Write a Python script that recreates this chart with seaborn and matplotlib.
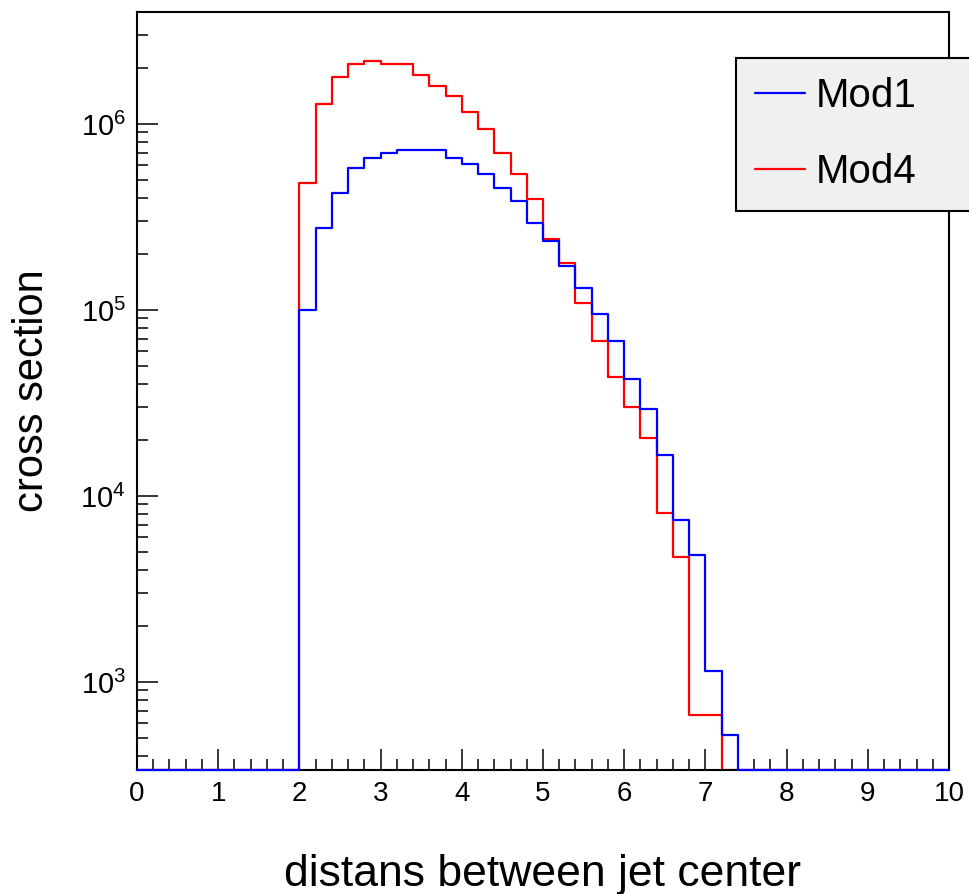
import numpy as np
import pandas as pd
import matplotlib
matplotlib.use("Agg")
import matplotlib.pyplot as plt
import seaborn as sns
from matplotlib.ticker import LogLocator, MultipleLocator, NullFormatter, LogFormatterSciNotation

# ---------------- data ----------------
x_min, x_max, bin_width = 0.0, 10.0, 0.2
series_names = ["Mod1", "Mod4"]
mod1 = [0, 0, 0, 0, 0, 0, 0, 0, 0, 0,
        1.0e5, 2.75e5, 4.24e5, 5.78e5, 6.55e5, 6.96e5, 7.24e5, 7.24e5, 7.24e5, 6.55e5,
        6.1e5, 5.37e5, 4.55e5, 3.84e5, 2.95e5, 2.35e5, 1.73e5, 1.32e5, 9.5e4, 6.8e4,
        4.24e4, 2.92e4, 1.66e4, 7.4e3, 4.8e3, 1.15e3, 5.2e2,
        0, 0, 0, 0, 0, 0, 0, 0, 0, 0, 0, 0, 0]
mod4 = [0, 0, 0, 0, 0, 0, 0, 0, 0, 0,
        4.8e5, 1.28e6, 1.79e6, 2.11e6, 2.18e6, 2.11e6, 2.11e6, 1.84e6, 1.61e6, 1.41e6,
        1.16e6, 9.4e5, 7.0e5, 5.4e5, 3.95e5, 2.40e5, 1.78e5, 1.09e5, 6.8e4, 4.37e4,
        3.02e4, 2.04e4, 8.1e3, 4.7e3, 6.65e2, 6.65e2,
        0, 0, 0, 0, 0, 0, 0, 0, 0, 0, 0, 0, 0, 0]
x_title = "distans between jet center"
y_title = "cross section"

y_lo, y_hi = 336, 4.0e6

# ---------------- style ----------------
sns.set_style("white")
plt.rcParams["font.family"] = ["Liberation Sans", "DejaVu Sans"]
plt.rcParams["mathtext.fontset"] = "custom"
plt.rcParams["mathtext.rm"] = "Liberation Sans"
plt.rcParams["mathtext.it"] = "Liberation Sans"
plt.rcParams["mathtext.default"] = "regular"
plt.rcParams["text.color"] = "black"
plt.rcParams["axes.labelcolor"] = "black"
plt.rcParams["xtick.color"] = "black"
plt.rcParams["ytick.color"] = "black"

edges = [round(v, 6) for v in np.arange(x_min, x_max + bin_width / 2, bin_width)]
centers = [(a + b) / 2 for a, b in zip(edges[:-1], edges[1:])]
df = pd.DataFrame({
    "center": centers,
    "Mod1": np.maximum(np.array(mod1, float), y_lo),
    "Mod4": np.maximum(np.array(mod4, float), y_lo),
})

fig = plt.figure(figsize=(9.69, 8.94), dpi=100)
ax = fig.add_axes([137 / 969, 1 - 770 / 894, 812 / 969, 758 / 894])
ax.set_yscale("log")

sns.histplot(data=df, x="center", weights="Mod4", bins=edges, element="step",
             fill=False, color="#ff0000", linewidth=1.6, ax=ax, zorder=2)
sns.histplot(data=df, x="center", weights="Mod1", bins=edges, element="step",
             fill=False, color="#0000ff", linewidth=1.6, ax=ax, zorder=3, clip_on=False)

ax.set_xlim(x_min, x_max)
ax.set_ylim(y_lo, y_hi)

ax.xaxis.set_major_locator(MultipleLocator(1))
ax.xaxis.set_minor_locator(MultipleLocator(0.2))
ax.yaxis.set_major_locator(LogLocator(base=10))
ax.yaxis.set_minor_locator(LogLocator(base=10, subs=np.arange(2, 10)))
ax.yaxis.set_major_formatter(LogFormatterSciNotation(base=10))
ax.yaxis.set_minor_formatter(NullFormatter())

ax.tick_params(which="both", direction="in", top=False, right=False,
               bottom=True, left=True, color="black", width=1.1)
ax.tick_params(which="major", length=15)
ax.tick_params(which="minor", length=8)
ax.tick_params(axis="x", which="major", labelsize=20, pad=8, labelcolor="black")
ax.tick_params(axis="y", which="major", labelsize=21, pad=8, labelcolor="black")

for s in ax.spines.values():
    s.set_color("black")
    s.set_linewidth(1.5)

ax.set_xlabel(x_title, fontsize=32, color="black")
ax.set_ylabel(y_title, fontsize=30, color="black")
ax.xaxis.set_label_coords(0.5, -0.111)
ax.yaxis.set_label_coords(-0.105, 0.5)

lines = ax.get_lines()
handles = [lines[1], lines[0]]
leg = ax.legend(handles, series_names, loc="upper left",
                bbox_to_anchor=(736 / 969, 1 - 58 / 894, 270 / 969, 0),
                bbox_transform=fig.transFigure, mode="expand", borderaxespad=0,
                fontsize=29, frameon=True, fancybox=False, framealpha=1,
                facecolor="#f0f0f0", edgecolor="black", handlelength=1.25,
                handletextpad=0.25, labelspacing=0.95,
                borderpad=0.475, labelcolor="black")
leg.get_frame().set_linewidth(1.5)
for h in leg.legend_handles:
    h.set_linewidth(1.6)

fig.savefig("out.png", dpi=100)
